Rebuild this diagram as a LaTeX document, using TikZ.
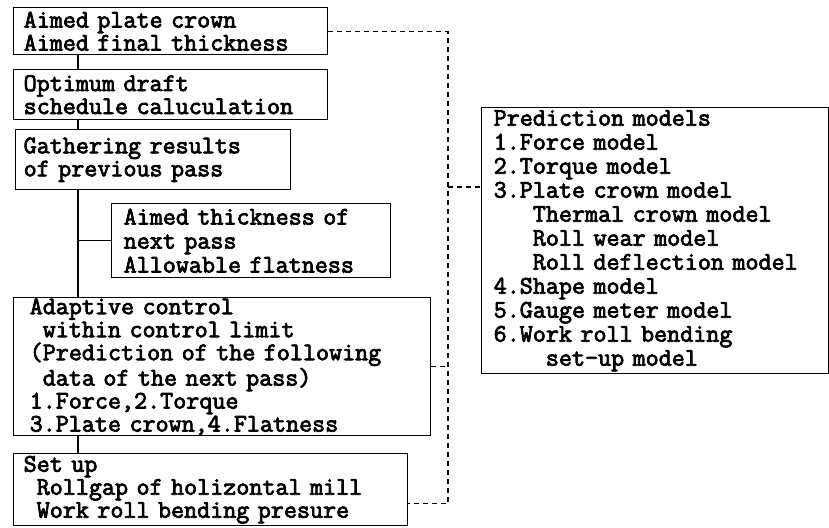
\documentclass[tikz,border=0pt]{standalone}
\usepackage{fontspec}
\newfontfamily\typefont[FakeBold=3]{Latin Modern Mono}
\usetikzlibrary{calc}
\newcommand{\boxfont}[1]{\typefont\fontsize{12.67pt}{#1}\selectfont}

\begin{document}
\begin{tikzpicture}[x=0.5pt,y=-0.5pt]
	\tikzstyle{box}=[draw, line width=0.7pt, anchor=north west, align=left, inner ysep=0pt, inner xsep=5pt, font=\boxfont{11.5pt}]
	\tikzstyle{trunk}=[line width=0.7pt]
	\tikzstyle{dashline}=[line width=0.6pt, dash pattern=on 2.5pt off 2pt]
	\useasboundingbox (0,0) rectangle (829,527);
	% left column
	\node[box, text width=147pt, minimum height=23.5pt] (aim) at (13,7) {Aimed plate crown\\Aimed final thickness};
	\node[box, text width=147pt, minimum height=25pt] (sched) at (13,69) {Optimum draft\\schedule caluculation};
	\node[box, inner xsep=4pt, text width=129.5pt, minimum height=30pt] (gather) at (15,129) {Gathering results\\of previous pass};
	\node[box, inner xsep=6pt, text width=127.5pt, minimum height=37pt, font=\boxfont{12pt}] (next) at (111,203) {Aimed thickness of\\next pass\\Allowable flatness};
	\node[box, inner xsep=8pt, text width=192.5pt, minimum height=69pt] (adapt) at (13,297) {Adaptive control\\\phantom{x}within control limit\\(Prediction of the following\\\phantom{x}data of the next pass)\\1.Force,2.Torque\\3.Plate crown,4.Flatness};
	\node[box, text width=187pt, minimum height=36pt] (setup) at (13,453) {Set up\\\phantom{x}Rollgap of holizontal mill\\\phantom{x}Work roll bending presure};
	% right column
	\node[box, inner xsep=6pt, text width=161.5pt, minimum height=133pt, font=\boxfont{12pt}] (models) at (481,107) {Prediction models\\1.Force model\\2.Torque model\\3.Plate crown model\\\phantom{xxx}Thermal crown model\\\phantom{xxx}Roll wear model\\\phantom{xxx}Roll deflection model\\4.Shape model\\5.Gauge meter model\\6.Work roll bending\\\phantom{xxxx}set-up model};
	% solid links
	\coordinate (tk) at (78,0);
	\draw[trunk] (aim.south -| tk) -- (sched.north -| tk);
	\draw[trunk] (sched.south -| tk) -- (gather.north -| tk);
	\draw[trunk] (gather.south -| tk) -- (adapt.north -| tk);
	\draw[trunk] (tk |- next.west) -- (next.west);
	\draw[trunk] (adapt.south -| tk) -- (setup.north -| tk);
	% dashed links
	\coordinate (bus) at (448,0);
	\coordinate (sdash) at ($(setup.south east)+(0,-23)$);
	\coordinate (mdash) at ($(models.north west)+(0,80)$);
	\draw[dashline] (aim.east) -| (bus |- sdash) -- (sdash);
	\draw[dashline] (adapt.east) -- (adapt.east -| bus);
	\draw[dashline] (bus |- mdash) -- (mdash);
\end{tikzpicture}
\end{document}
